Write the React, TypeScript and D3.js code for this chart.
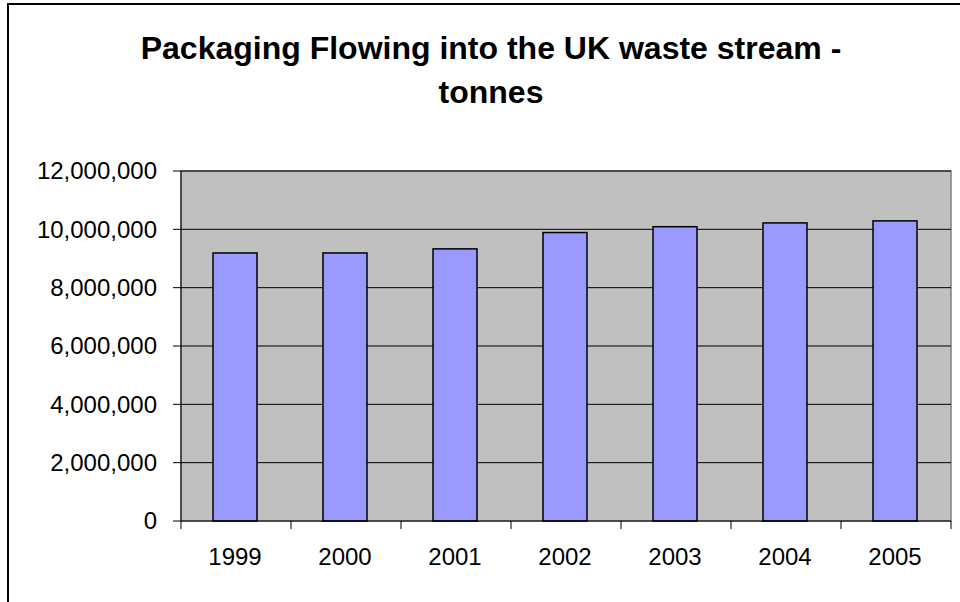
import React from "react";
import * as d3 from "d3";

const years = ["1999", "2000", "2001", "2002", "2003", "2004", "2005"];
const tonnes = [9190000, 9190000, 9330000, 9890000, 10090000, 10220000, 10290000];
const yTicks = [0, 2000000, 4000000, 6000000, 8000000, 10000000, 12000000];
const titleLines = ["Packaging Flowing into the UK waste stream -", "tonnes"];

export default function App() {
  const W = 960, H = 602;
  const left = 181, right = 951, top = 171, bottom = 521;
  const x = d3.scaleBand<string>().domain(years).range([left, right]).paddingInner(0).paddingOuter(0);
  const y = d3.scaleLinear().domain([0, 12000000]).range([bottom, top]);
  const fmt = d3.format(",");
  const bw = x.bandwidth() / 2.5;
  const font = "'Liberation Sans', Arial, sans-serif";
  const boundaries = years.map((_, i) => left + i * x.step()).concat([right]);

  return (
    <svg width={W} height={H} style={{ position: "absolute", left: 0, top: 0, background: "#fff" }} fontFamily={font}>
      <rect x={8} y={4} width={1000} height={700} fill="#fff" stroke="#000" strokeWidth={2} />
      {titleLines.map((t, i) => (
        <text key={i} x={491} y={59 + i * 44} textAnchor="middle" fontSize={32} fontWeight="bold" fill="#000">{t}</text>
      ))}
      <rect x={left} y={top} width={right - left} height={bottom - top} fill="#C0C0C0" stroke="#808080" strokeWidth={1.5} />
      {yTicks.filter(v => v > 0).map(v => (
        <line key={v} x1={left} x2={right} y1={y(v)} y2={y(v)} stroke="#000" strokeWidth={1} />
      ))}
      {years.map((yr, i) => (
        <rect key={yr} x={(x(yr) as number) + (x.bandwidth() - bw) / 2 - 1} y={y(tonnes[i])} width={bw} height={bottom - y(tonnes[i])}
          fill="#9999FF" stroke="#000" strokeWidth={1.5} />
      ))}
      <line x1={left} x2={left} y1={top} y2={bottom} stroke="#000" strokeWidth={1} />
      <line x1={left} x2={right} y1={bottom} y2={bottom} stroke="#000" strokeWidth={1} />
      {yTicks.map(v => (
        <g key={v}>
          <line x1={left - 8} x2={left} y1={y(v)} y2={y(v)} stroke="#000" strokeWidth={1} />
          <text x={157} y={y(v)} dy="0.35em" textAnchor="end" fontSize={24} fill="#000">{fmt(v)}</text>
        </g>
      ))}
      {boundaries.map((bx, i) => (
        <line key={i} x1={bx} x2={bx} y1={bottom} y2={bottom + 8} stroke="#000" strokeWidth={1} />
      ))}
      {years.map(yr => (
        <text key={yr} x={(x(yr) as number) + x.bandwidth() / 2 - 1} y={565} textAnchor="middle" fontSize={24} fill="#000">{yr}</text>
      ))}
    </svg>
  );
}
